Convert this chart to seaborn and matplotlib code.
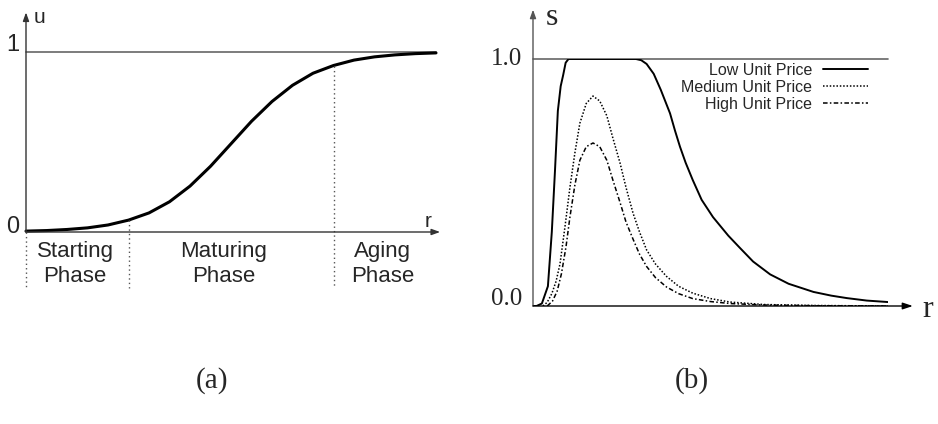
import matplotlib
matplotlib.use("Agg")
import matplotlib.pyplot as plt
import seaborn as sns
import pandas as pd

sns.set_style("white")
plt.rcParams['font.family'] = ['Liberation Sans', 'DejaVu Sans']

# ---- panel (a) data: adoption curve ----
r_a = [0.0, 0.5, 1.0, 1.5, 2.0, 2.5, 3.0, 3.5, 4.0, 4.5, 5.0,
       5.5, 6.0, 6.5, 7.0, 7.5, 8.0, 8.5, 9.0, 9.5, 10.0]
u_a = [0.005, 0.008, 0.014, 0.023, 0.039, 0.066, 0.106, 0.168, 0.255, 0.365, 0.49,
       0.615, 0.725, 0.815, 0.882, 0.925, 0.955, 0.973, 0.984, 0.991, 0.995]
phase_bounds = [0.0, 2.5, 7.5]
phase_tops = [0.0, 0.066, 0.925]
phase_labels = ["Starting\nPhase", "Maturing\nPhase", "Aging\nPhase"]
phase_centers = [1.2, 4.83, 8.7]

# ---- panel (b) data ----
r_low = [0.0, 0.1, 0.25, 0.42, 0.53, 0.62, 0.70, 0.78, 0.85, 0.92, 1.0, 2.9, 3.05, 3.2, 3.4,
         3.6, 3.86, 4.0, 4.14, 4.3, 4.5, 4.75, 5.07, 5.5, 5.83, 6.2, 6.68, 7.2, 7.9, 8.4, 8.84, 9.4, 10.0]
s_low = [0.0, 0.0, 0.01, 0.08, 0.30, 0.55, 0.79, 0.89, 0.935, 0.985, 1.0, 1.0, 0.995, 0.98, 0.94,
         0.875, 0.78, 0.71, 0.645, 0.58, 0.51, 0.43, 0.36, 0.285, 0.235, 0.18, 0.128, 0.09, 0.057, 0.042, 0.032, 0.022, 0.016]
r_med = [0.28, 0.4, 0.53, 0.65, 0.76, 0.9, 1.04, 1.18, 1.32, 1.5, 1.69, 1.88, 2.08, 2.25,
         2.45, 2.62, 2.82, 3.0, 3.2, 3.45, 3.76, 4.1, 4.5, 5.0, 5.55, 6.5, 8.0, 10.0]
s_med = [0.0, 0.015, 0.05, 0.10, 0.17, 0.32, 0.48, 0.62, 0.74, 0.82, 0.85, 0.83, 0.77, 0.68,
         0.58, 0.48, 0.375, 0.30, 0.227, 0.17, 0.12, 0.08, 0.052, 0.03, 0.016, 0.006, 0.002, 0.0]
r_high = [0.4, 0.55, 0.68, 0.8, 0.93, 1.04, 1.18, 1.32, 1.5, 1.69, 1.88, 2.08, 2.25, 2.45,
          2.62, 2.82, 3.0, 3.2, 3.45, 3.76, 4.1, 4.5, 5.0, 5.55, 6.5, 8.0, 10.0]
s_high = [0.0, 0.02, 0.06, 0.13, 0.24, 0.36, 0.49, 0.59, 0.645, 0.66, 0.645, 0.59, 0.51, 0.42,
          0.34, 0.27, 0.21, 0.16, 0.115, 0.077, 0.05, 0.03, 0.018, 0.01, 0.004, 0.001, 0.0]
series_names = ["Low Unit Price", "Medium Unit Price", "High Unit Price"]
yticks_b = [0.0, 1.0]
ytick_labels_b = ["0.0", "1.0"]

W, H = 938, 424
fig = plt.figure(figsize=(W / 100, H / 100), dpi=100)

def px_axes(x0, x1, ytop, ybot):
    return fig.add_axes([x0 / W, (H - ybot) / H, (x1 - x0) / W, (ybot - ytop) / H])

# ================= panel (a) =================
axa = px_axes(26, 436, 52, 232)
axa.set_xlim(0, 10)
axa.set_ylim(0, 1)
axa.axis("off")
axis_col = "#333333"
axa.annotate("", xy=(0, 1.22), xytext=(0, 0), xycoords="data",
             arrowprops=dict(arrowstyle="-|>,head_length=0.5,head_width=0.18", color=axis_col, lw=1.0,
                             shrinkA=0, shrinkB=0), annotation_clip=False)
axa.annotate("", xy=(10.1, 0), xytext=(0, 0), xycoords="data",
             arrowprops=dict(arrowstyle="-|>,head_length=0.5,head_width=0.18", color=axis_col, lw=1.0,
                             shrinkA=0, shrinkB=0), annotation_clip=False)
axa.plot([0, 10], [1, 1], color="#666666", lw=1.2, clip_on=False)
sns.lineplot(x=r_a, y=u_a, ax=axa, color="black", lw=2.2, sort=False, estimator=None)
axa.lines[-1].set_clip_on(False)
for b, top in zip(phase_bounds, phase_tops):
    axa.plot([b, b], [top, -0.31], color="#555555", lw=1.0, ls=(0, (1, 2.2)), clip_on=False)
for c, lab in zip(phase_centers, phase_labels):
    axa.text(c, -0.175, lab, ha="center", va="center", fontsize=16, linespacing=1.25)
axa.text(-0.17, 1.04, "1", ha="right", va="center", fontsize=17)
axa.text(-0.17, 0.03, "0", ha="right", va="center", fontsize=17)
axa.text(0.34, 1.19, "u", ha="center", va="center", fontsize=15)
axa.text(9.8, 0.06, "r", ha="center", va="center", fontsize=15)

# ================= panel (b) =================
axb = px_axes(533, 888, 59, 306)
axb.set_xlim(0, 10)
axb.set_ylim(0, 1)
axb.axis("off")
axb.annotate("", xy=(0, 1.2), xytext=(0, 0), xycoords="data",
             arrowprops=dict(arrowstyle="-|>,head_length=0.5,head_width=0.18", color="#555555", lw=1.0,
                             shrinkA=0, shrinkB=0), annotation_clip=False)
axb.annotate("", xy=(10.7, 0), xytext=(0, 0), xycoords="data",
             arrowprops=dict(arrowstyle="-|>,head_length=0.6,head_width=0.2", color="black", lw=1.0,
                             shrinkA=0, shrinkB=0), annotation_clip=False)
axb.plot([0, 10], [1, 1], color="#666666", lw=1.2, clip_on=False)

styles = ["-", (0, (1, 1.2)), (0, (3, 1.5, 1, 1.5))]
widths = [1.4, 1.1, 1.1]
for rr, ss, name, st, lw in zip([r_low, r_med, r_high], [s_low, s_med, s_high],
                                series_names, styles, widths):
    df = pd.DataFrame({"r": rr, "s": ss})
    sns.lineplot(data=df, x="r", y="s", ax=axb, color="black", lw=lw, ls=st,
                 sort=False, estimator=None, label=name)

leg = axb.legend(loc="upper right", bbox_to_anchor=(0.944, 0.985), frameon=False,
                 markerfirst=False, handlelength=2.8, handletextpad=0.7, borderpad=0,
                 borderaxespad=0, labelspacing=0.12, prop={"family": "Liberation Sans", "size": 11.5})
for t in leg.get_texts():
    t.set_ha("right")

serif = ["Liberation Serif", "DejaVu Serif"]
for v, lab in zip(yticks_b, ytick_labels_b):
    axb.text(-0.31, v + (0.03 if v == 0 else 0.0), lab, ha="right", va="center", fontsize=18, family=serif)
axb.text(0.54, 1.17, "s", ha="center", va="center", fontsize=23, family=serif)
axb.text(10.98, -0.016, "r", ha="left", va="center", fontsize=23, family=serif)

fig.text(212 / W, 1 - 381 / H, "(a)", ha="center", va="center", fontsize=21, family=serif)
fig.text(692 / W, 1 - 381 / H, "(b)", ha="center", va="center", fontsize=21, family=serif)

fig.savefig("out.png", dpi=100, facecolor="white")
